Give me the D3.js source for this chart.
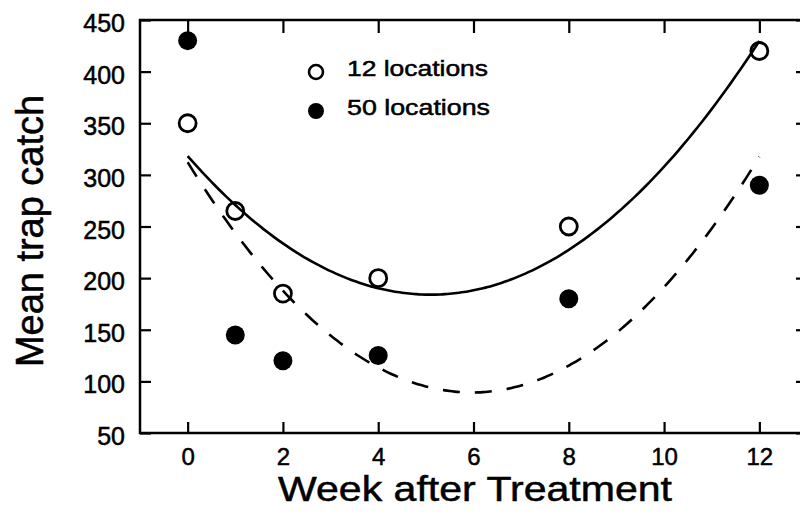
<!DOCTYPE html>
<html>
<head>
<meta charset="utf-8">
<script src="https://cdn.jsdelivr.net/npm/d3@7"></script>
<style>
  html, body { margin: 0; padding: 0; background: #fff; }
  svg { display: block; }
  text { font-family: "Liberation Sans", Arial, Helvetica, sans-serif; fill: #000; stroke: #000; stroke-width: 0.5px; }
</style>
</head>
<body>
<svg id="chart" width="800" height="517"></svg>
<script>
// ---- data ----
const weeks = [0, 1, 2, 4, 8, 12];
const catch12 = [350, 265, 185, 200, 250, 420];   // 12 locations (open circles)
const catch50 = [430, 145, 120, 125, 180, 290];   // 50 locations (filled circles)
const xTicks = [0, 2, 4, 6, 8, 10, 12];
const yTicks = [50, 100, 150, 200, 250, 300, 350, 400, 450];
const seriesNames = ["12 locations", "50 locations"];

// ---- quadratic least-squares fit from the data ----
function quadFit(xs, ys) {
  let S = [0,0,0,0,0], T = [0,0,0];
  xs.forEach((x, i) => {
    for (let k = 0; k < 5; k++) S[k] += Math.pow(x, k);
    for (let k = 0; k < 3; k++) T[k] += Math.pow(x, k) * ys[i];
  });
  const A = [[S[0],S[1],S[2],T[0]],[S[1],S[2],S[3],T[1]],[S[2],S[3],S[4],T[2]]];
  for (let i = 0; i < 3; i++) {
    for (let j = i + 1; j < 3; j++) {
      const f = A[j][i] / A[i][i];
      for (let k = i; k < 4; k++) A[j][k] -= f * A[i][k];
    }
  }
  const c = [0,0,0];
  for (let i = 2; i >= 0; i--) {
    let s = A[i][3];
    for (let k = i + 1; k < 3; k++) s -= A[i][k] * c[k];
    c[i] = s / A[i][i];
  }
  return x => c[0] + c[1] * x + c[2] * x * x;
}

const svg = d3.select("#chart");
const x = d3.scaleLinear().domain([-1, 13]).range([140, 807]);
const y = d3.scaleLinear().domain([50, 450]).range([433, 20]);

// ---- frame and axes ----
const axisW = 2.5;
function styleAxis(g, size) {
  g.select(".domain").remove();
  g.selectAll(".tick line").attr("stroke", "#000").attr("stroke-width", 2.2);
  g.selectAll(".tick text").style("font-size", (size || 25) + "px")
    .style("font-family", "'Liberation Sans', Arial, sans-serif");
}
// bottom axis: inward ticks, labels below
svg.append("g").attr("class", "xaxis").attr("transform", `translate(0,${y(50)})`)
  .call(d3.axisBottom(x).tickValues(xTicks).tickSize(-11).tickPadding(15).tickFormat(d3.format("d")))
  .call(g => styleAxis(g, 24));
// top axis: inward ticks, no labels
svg.append("g").attr("transform", `translate(0,${y(450)})`)
  .call(d3.axisTop(x).tickValues(xTicks).tickSize(-13).tickFormat(""))
  .call(styleAxis);
// left axis
svg.append("g").attr("class", "yaxis").attr("transform", `translate(${x(-1)},0)`)
  .call(d3.axisLeft(y).tickValues(yTicks).tickSize(-11).tickPadding(15).tickFormat(d3.format("d")))
  .call(styleAxis);
svg.selectAll(".yaxis .tick text").attr("dy", "0.46em");
// right axis
svg.append("g").attr("transform", `translate(${x(13)},0)`)
  .call(d3.axisRight(y).tickValues(yTicks).tickSize(-11).tickFormat(""))
  .call(styleAxis);
// frame
svg.append("rect")
  .attr("x", x(-1)).attr("y", y(450))
  .attr("width", x(13) - x(-1)).attr("height", y(50) - y(450))
  .attr("fill", "none").attr("stroke", "#000").attr("stroke-width", axisW);

// ---- fitted curves ----
const fit12 = quadFit(weeks, catch12);
const fit50 = quadFit(weeks, catch50);
const xs = d3.range(0, 12.0001, 0.1);
const line = d3.line().x(d => x(d[0])).y(d => y(d[1])).curve(d3.curveMonotoneX);

svg.append("path")
  .datum(xs.map(v => [v, fit12(v)]))
  .attr("d", line).attr("fill", "none")
  .attr("stroke", "#000").attr("stroke-width", 2.6);

svg.append("path")
  .datum(xs.map(v => [v, fit50(v)]))
  .attr("d", line).attr("fill", "none")
  .attr("stroke", "#000").attr("stroke-width", 2.6)
  .attr("stroke-dasharray", "17,15");

// ---- points ----
svg.append("g").selectAll("circle")
  .data(weeks.map((w, i) => [w, catch12[i]]))
  .join("circle")
  .attr("cx", d => x(d[0])).attr("cy", d => y(d[1])).attr("r", 8.5)
  .attr("fill", "none").attr("stroke", "#000").attr("stroke-width", 2.8);

svg.append("g").selectAll("circle")
  .data(weeks.map((w, i) => [w, catch50[i]]))
  .join("circle")
  .attr("cx", d => x(d[0])).attr("cy", d => y(d[1])).attr("r", 9.5)
  .attr("fill", "#000");

// ---- legend ----
const leg = svg.append("g");
leg.append("circle").attr("cx", 316).attr("cy", 72).attr("r", 7)
  .attr("fill", "none").attr("stroke", "#000").attr("stroke-width", 2.6);
leg.append("circle").attr("cx", 316).attr("cy", 111).attr("r", 8).attr("fill", "#000");
leg.append("text").attr("x", 347).attr("y", 76).style("font-size", "22px")
  .attr("textLength", 141).attr("lengthAdjust", "spacingAndGlyphs").text(seriesNames[0]);
leg.append("text").attr("x", 347).attr("y", 115).style("font-size", "22px")
  .attr("textLength", 143).attr("lengthAdjust", "spacingAndGlyphs").text(seriesNames[1]);

// ---- axis titles ----
svg.append("text")
  .attr("x", 278).attr("y", 501)
  .style("font-size", "35px")
  .attr("textLength", 394).attr("lengthAdjust", "spacingAndGlyphs")
  .text("Week after Treatment");

svg.append("text")
  .attr("transform", "translate(43,367) rotate(-90)")
  .style("font-size", "38px")
  .attr("textLength", 272).attr("lengthAdjust", "spacingAndGlyphs")
  .text("Mean trap catch");
</script>
</body>
</html>
